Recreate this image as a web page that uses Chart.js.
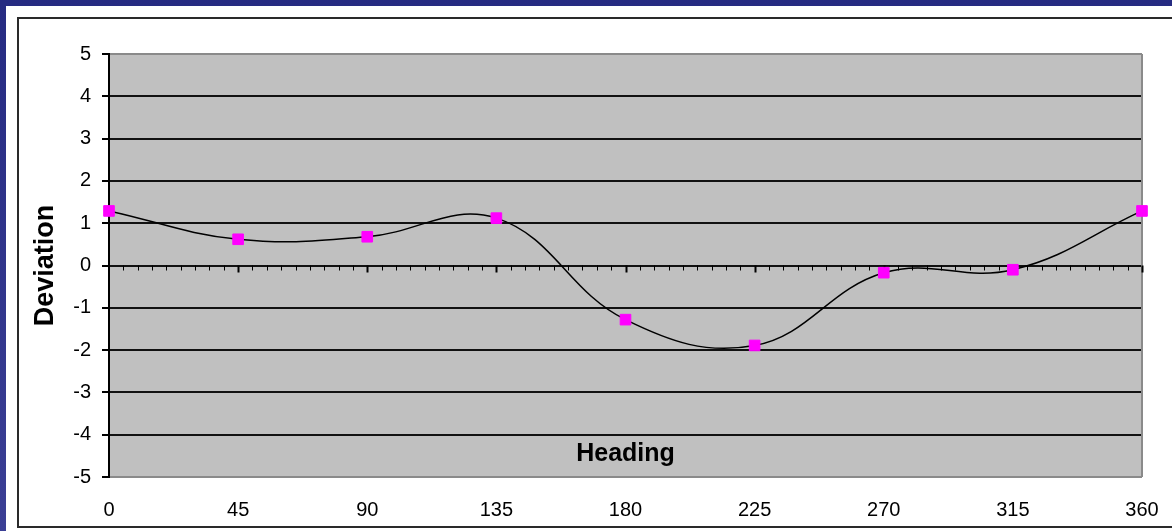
<!DOCTYPE html>
<html>
<head>
<meta charset="utf-8">
<script src="https://cdn.jsdelivr.net/npm/chart.js@4"></script>
<style>
html,body{margin:0;padding:0;background:#fff;}
#wrap{width:1172px;height:531px;position:relative;}
</style>
</head>
<body>
<div id="wrap"><canvas id="c" width="1172" height="531"></canvas></div>
<script>
// Data
const headings = [0, 45, 90, 135, 180, 225, 270, 315, 360];
const deviation = [1.29, 0.62, 0.68, 1.12, -1.28, -1.89, -0.17, -0.1, 1.29];
const xTickValues = [0, 45, 90, 135, 180, 225, 270, 315, 360];
const yMin = -5, yMax = 5;
const xTitle = 'Heading';
const yTitle = 'Deviation';

const FONT = 'Arial, "Liberation Sans", sans-serif';

const framePlugin = {
  id: 'frame',
  beforeDraw(chart) {
    const ctx = chart.ctx, W = chart.width, H = chart.height;
    const a = chart.chartArea;
    ctx.save();
    const g = ctx.createLinearGradient(0, 0, 0, H);
    g.addColorStop(0, '#262b82');
    g.addColorStop(1, '#3b3f95');
    ctx.fillStyle = g;
    ctx.fillRect(0, 0, W, H);
    ctx.fillStyle = '#ffffff';
    ctx.fillRect(6, 6, W - 6, H - 6);
    ctx.strokeStyle = '#2a2a2a';
    ctx.lineWidth = 2;
    ctx.strokeRect(18, 18, W, 527 - 18);
    ctx.fillStyle = '#c0c0c0';
    ctx.fillRect(a.left, a.top, a.right - a.left, a.bottom - a.top);
    ctx.restore();
  },
  beforeDatasetsDraw(chart) {
    const ctx = chart.ctx, a = chart.chartArea;
    const xs = chart.scales.x, ys = chart.scales.y;
    ctx.save();
    ctx.strokeStyle = '#8a8a8a';
    ctx.lineWidth = 2;
    ctx.beginPath();
    ctx.moveTo(a.right, a.top);
    ctx.lineTo(a.right, a.bottom);
    ctx.stroke();
    const y0 = ys.getPixelForValue(0);
    ctx.strokeStyle = '#000';
    for (let v = 5; v <= 360; v += 5) {
      const px = Math.round(xs.getPixelForValue(v)) + 0.5;
      const major = v % 45 === 0;
      ctx.lineWidth = major ? 2 : 1;
      ctx.beginPath();
      ctx.moveTo(px, y0);
      ctx.lineTo(px, y0 + (major ? 7 : 5));
      ctx.stroke();
    }
    ctx.restore();
  },
  afterDraw(chart) {
    const ctx = chart.ctx, xs = chart.scales.x, ys = chart.scales.y;
    ctx.save();
    ctx.fillStyle = '#000';
    ctx.textAlign = 'center';
    ctx.textBaseline = 'middle';
    ctx.font = 'bold 25px ' + FONT;
    ctx.fillText(xTitle, xs.getPixelForValue(180), ys.getPixelForValue(-4.45));
    ctx.translate(46, ys.getPixelForValue(0));
    ctx.rotate(-Math.PI / 2);
    ctx.font = 'bold 27px ' + FONT;
    ctx.fillText(yTitle, 0, 0);
    ctx.restore();
  }
};

new Chart(document.getElementById('c'), {
  type: 'line',
  data: {
    datasets: [{
      data: headings.map((h, i) => ({ x: h, y: deviation[i] })),
      borderColor: '#000',
      borderWidth: 1.5,
      tension: 0.4,
      fill: false,
      clip: false,
      pointStyle: 'rect',
      pointRadius: 7.5,
      pointBorderWidth: 1,
      pointBackgroundColor: '#ff00ff',
      pointBorderColor: '#ff00ff',
      pointHoverRadius: 7.5
    }]
  },
  options: {
    responsive: false,
    animation: false,
    devicePixelRatio: 1,
    layout: { padding: { left: 0, top: 54, right: 30, bottom: 0 } },
    plugins: { legend: { display: false }, tooltip: { enabled: false } },
    scales: {
      x: {
        type: 'linear',
        min: 0, max: 360,
        afterFit(s) { s.height = 54; s.paddingLeft = 0; s.paddingRight = 0; },
        afterBuildTicks(s) { s.ticks = xTickValues.map(v => ({ value: v })); },
        grid: { drawOnChartArea: false, drawTicks: false },
        border: { display: false },
        ticks: { color: '#000', font: { family: FONT, size: 20 }, padding: 21, maxRotation: 0, autoSkip: false }
      },
      y: {
        min: yMin, max: yMax,
        afterFit(s) { s.width = 109; s.paddingTop = 0; s.paddingBottom = 0; },
        ticks: { stepSize: 1, color: '#000', font: { family: FONT, size: 20 }, padding: 11 },
        grid: {
          color: c => (c.tick && (c.tick.value === yMax || c.tick.value === yMin)) ? '#8a8a8a' : '#111',
          lineWidth: 2,
          tickColor: '#000',
          tickLength: 7
        },
        border: { display: true, color: '#000', width: 2 }
      }
    }
  },
  plugins: [framePlugin]
});
</script>
</body>
</html>
